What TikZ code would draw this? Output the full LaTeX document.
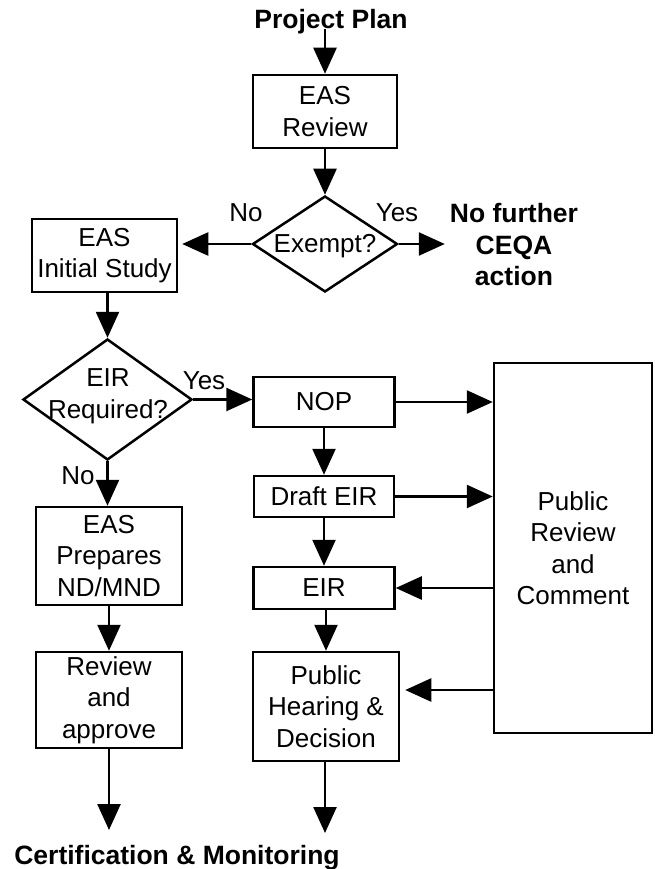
\documentclass[tikz,border=0pt]{standalone}
\usepackage{fontspec}
\setmainfont{Liberation Sans}
\usetikzlibrary{arrows.meta,shapes.geometric,calc}
\newcommand\diagfont{\fontsize{26}{31.5}\selectfont}
\newcommand\diagbold{\fontsize{26.5}{31.5}\selectfont\bfseries}
\begin{document}
\begin{tikzpicture}[x=1pt,y=-1pt,
  box/.style={draw,line width=2.5pt,inner sep=0pt,align=center,font=\diagfont},
  dia/.style={draw,diamond,line width=2.5pt,inner sep=0pt},
  txt/.style={inner sep=0pt,align=center,font=\diagfont},
  bold/.style={inner sep=0pt,align=center,font=\diagbold},
  arr/.style={-{Triangle[length=26pt,width=23pt]},line width=2.5pt}]
\useasboundingbox (0,0) rectangle (654,869);
% nodes
\node[bold] (plan) at (331,22) {Project Plan};
\node[box,minimum width=144pt,minimum height=73pt] (rev) at (325,111.5) {EAS\\Review};
\node[dia,minimum width=145pt,minimum height=96pt] (ex) at (325,244) {};
\node[txt] (extxt) at (325,246) {Exempt?};
\node[txt] (no1) at (246,213) {No};
\node[txt] (yes1) at (397,213) {Yes};
\node[bold] (nofurther) at (514,245) {No further\\CEQA\\action};
\node[box,minimum width=145pt,minimum height=73pt] (ini) at (104.5,255.5) {EAS\\Initial Study};
\node[dia,minimum width=169pt,minimum height=121pt] (eir) at (107.5,399.5) {};
\node[txt] (eirtxt) at (108,396) {EIR\\Required?};
\node[txt] (yes2) at (204,381) {Yes};
\node[txt] (no2) at (78,476) {No};
\node[box,minimum width=141pt,minimum height=50pt] (nop) at (324,402) {NOP};
\node[box,minimum width=140pt,minimum height=41pt] (draft) at (324,496.5) {Draft EIR};
\node[box,minimum width=141pt,minimum height=42pt] (eirb) at (324,588) {EIR};
\node[box,minimum width=146pt,minimum height=109pt] (ph) at (326,706.5) {Public\\Hearing \&\\Decision};
\node[box,minimum width=158pt,minimum height=370pt] (pr) at (573,548) {Public\\Review\\and\\Comment};
\node[box,minimum width=146pt,minimum height=98pt] (prep) at (109,556) {EAS\\Prepares\\ND/MND};
\node[box,minimum width=146pt,minimum height=96pt] (appr) at (109,700) {Review\\and\\approve};
\node[bold] (cert) at (177,858) {Certification \& Monitoring};
\coordinate (endL) at (109,830);
\coordinate (endR) at (325,833);
% connectors
\draw[arr] (plan.base -| rev.north) -- (rev.north);
\draw[arr] (rev.south) -- (ex.north);
\draw[arr,shorten >=4pt] (ex.west) -- (ex.west -| ini.east);
\draw[arr,shorten >=5pt] (ex.east) -- (ex.east -| nofurther.west);
\draw[arr] (ini.south -| eir.north) -- (eir.north);
\draw[arr] (eir.east) -- (eir.east -| nop.west);
\draw[arr] (eir.south) -- (eir.south |- prep.north);
\draw[arr] (prep.south) -- (appr.north);
\draw[arr] (appr.south) -- (endL);
\draw[arr] (nop.south) -- (draft.north);
\draw[arr] (draft.south) -- (eirb.north);
\draw[arr] (eirb.south -| ph.north) -- (ph.north);
\draw[arr] (ph.south -| endR) -- (endR);
\draw[arr] (nop.east) -- (nop.east -| pr.west);
\draw[arr] (draft.east) -- (draft.east -| pr.west);
\draw[arr] (pr.west |- eirb.east) -- (eirb.east);
\draw[arr,shorten >=5pt] ($(pr.west |- ph.east)+(0,-16.5)$) -- ($(ph.east)+(0,-16.5)$);
\end{tikzpicture}
\end{document}
